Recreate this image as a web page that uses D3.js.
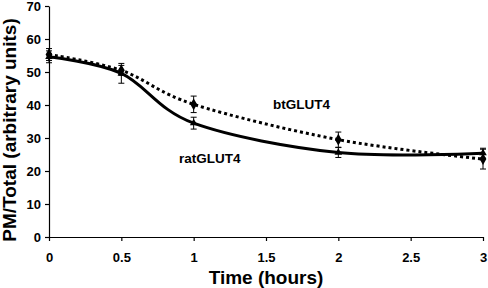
<!DOCTYPE html>
<html>
<head>
<meta charset="utf-8">
<script src="https://cdn.jsdelivr.net/npm/d3@7"></script>
<style>
  body { margin: 0; background: #fff; }
  svg { display: block; font-family: Arial, "Liberation Sans", sans-serif; font-weight: bold; }
</style>
</head>
<body>
<div id="chart"></div>
<script>
// data
const times = [0, 0.5, 1, 2, 3];
const btGLUT4 = [55.3, 50.5, 40.2, 29.5, 23.6];
const btErr = [1.8, 1.5, 2.5, 2.3, 3.0];
const ratGLUT4 = [54.6, 49.6, 34.5, 25.6, 25.4];
const ratErr = [1.8, 3.0, 1.8, 1.5, 1.5];
const xTicks = [0, 0.5, 1, 1.5, 2, 2.5, 3];
const yTicks = [0, 10, 20, 30, 40, 50, 60, 70];

const width = 488, height = 288;
const margin = { top: 6, right: 5, bottom: 51, left: 49 };

const svg = d3.select("#chart")
  .append("svg")
  .attr("width", width)
  .attr("height", height);

const x = d3.scaleLinear()
  .domain([0, 3])
  .range([margin.left, width - margin.right]);

const y = d3.scaleLinear()
  .domain([0, 70])
  .range([height - margin.bottom, margin.top]);

// axes
const xAxis = svg.append("g")
  .attr("transform", `translate(0,${y(0)})`)
  .call(d3.axisBottom(x).tickValues(xTicks).tickSize(4).tickSizeOuter(0)
    .tickFormat(d => d3.format("")(d)));
const yAxis = svg.append("g")
  .attr("transform", `translate(${x(0)},0)`)
  .call(d3.axisLeft(y).tickValues(yTicks).tickSize(4).tickSizeOuter(0));

[xAxis, yAxis].forEach(g => {
  g.selectAll("path, line").attr("stroke", "#000").attr("stroke-width", 1.2);
  g.selectAll("text").attr("fill", "#000").attr("font-size", 13)
    .attr("font-weight", "bold").attr("font-family", "Arial, 'Liberation Sans', sans-serif");
});
xAxis.selectAll("text").attr("y", 24.5).attr("dy", null);
yAxis.selectAll("text").attr("x", -8);

// axis titles
svg.append("text")
  .attr("x", (x(0) + x(3)) / 2)
  .attr("y", 284)
  .attr("text-anchor", "middle")
  .attr("font-size", 19)
  .text("Time (hours)");

svg.append("text")
  .attr("transform", `translate(16,130) rotate(-90)`)
  .attr("text-anchor", "middle")
  .attr("font-size", 19)
  .text("PM/Total (arbitrary units)");

// lines (smoothed like the original)
const line = d3.line()
  .x(d => x(d[0]))
  .y(d => y(d[1]))
  .curve(d3.curveCatmullRom.alpha(0));

const btData = times.map((t, i) => [t, btGLUT4[i], btErr[i]]);
const ratData = times.map((t, i) => [t, ratGLUT4[i], ratErr[i]]);

svg.append("path")
  .datum(ratData)
  .attr("d", line)
  .attr("fill", "none")
  .attr("stroke", "#000")
  .attr("stroke-width", 3);

svg.append("path")
  .datum(btData)
  .attr("d", line)
  .attr("fill", "none")
  .attr("stroke", "#000")
  .attr("stroke-width", 3)
  .attr("stroke-dasharray", "3,3");

// error bars
function errorBars(data) {
  const g = svg.append("g").attr("stroke", "#000").attr("stroke-width", 1);
  g.selectAll(".v").data(data).join("line")
    .attr("x1", d => x(d[0])).attr("x2", d => x(d[0]))
    .attr("y1", d => y(d[1] + d[2])).attr("y2", d => y(d[1] - d[2]));
  g.selectAll(".t").data(data).join("line")
    .attr("x1", d => x(d[0]) - 3).attr("x2", d => x(d[0]) + 3)
    .attr("y1", d => y(d[1] + d[2])).attr("y2", d => y(d[1] + d[2]));
  g.selectAll(".b").data(data).join("line")
    .attr("x1", d => x(d[0]) - 3).attr("x2", d => x(d[0]) + 3)
    .attr("y1", d => y(d[1] - d[2])).attr("y2", d => y(d[1] - d[2]));
}
errorBars(ratData);
errorBars(btData);

// markers
svg.selectAll(".bt-mark").data(btData).join("path")
  .attr("transform", d => `translate(${x(d[0])},${y(d[1])})`)
  .attr("d", d3.symbol(d3.symbolDiamond, 40))
  .attr("fill", "#000");

svg.selectAll(".rat-mark").data(ratData).join("path")
  .attr("transform", d => `translate(${x(d[0])},${y(d[1])})`)
  .attr("d", d3.symbol(d3.symbolTriangle, 25))
  .attr("fill", "#000");

// series labels
svg.append("text")
  .attr("x", 273).attr("y", 109)
  .attr("font-size", 13.5)
  .text("btGLUT4");

svg.append("text")
  .attr("x", 179).attr("y", 163)
  .attr("font-size", 13.5)
  .text("ratGLUT4");
</script>
</body>
</html>
